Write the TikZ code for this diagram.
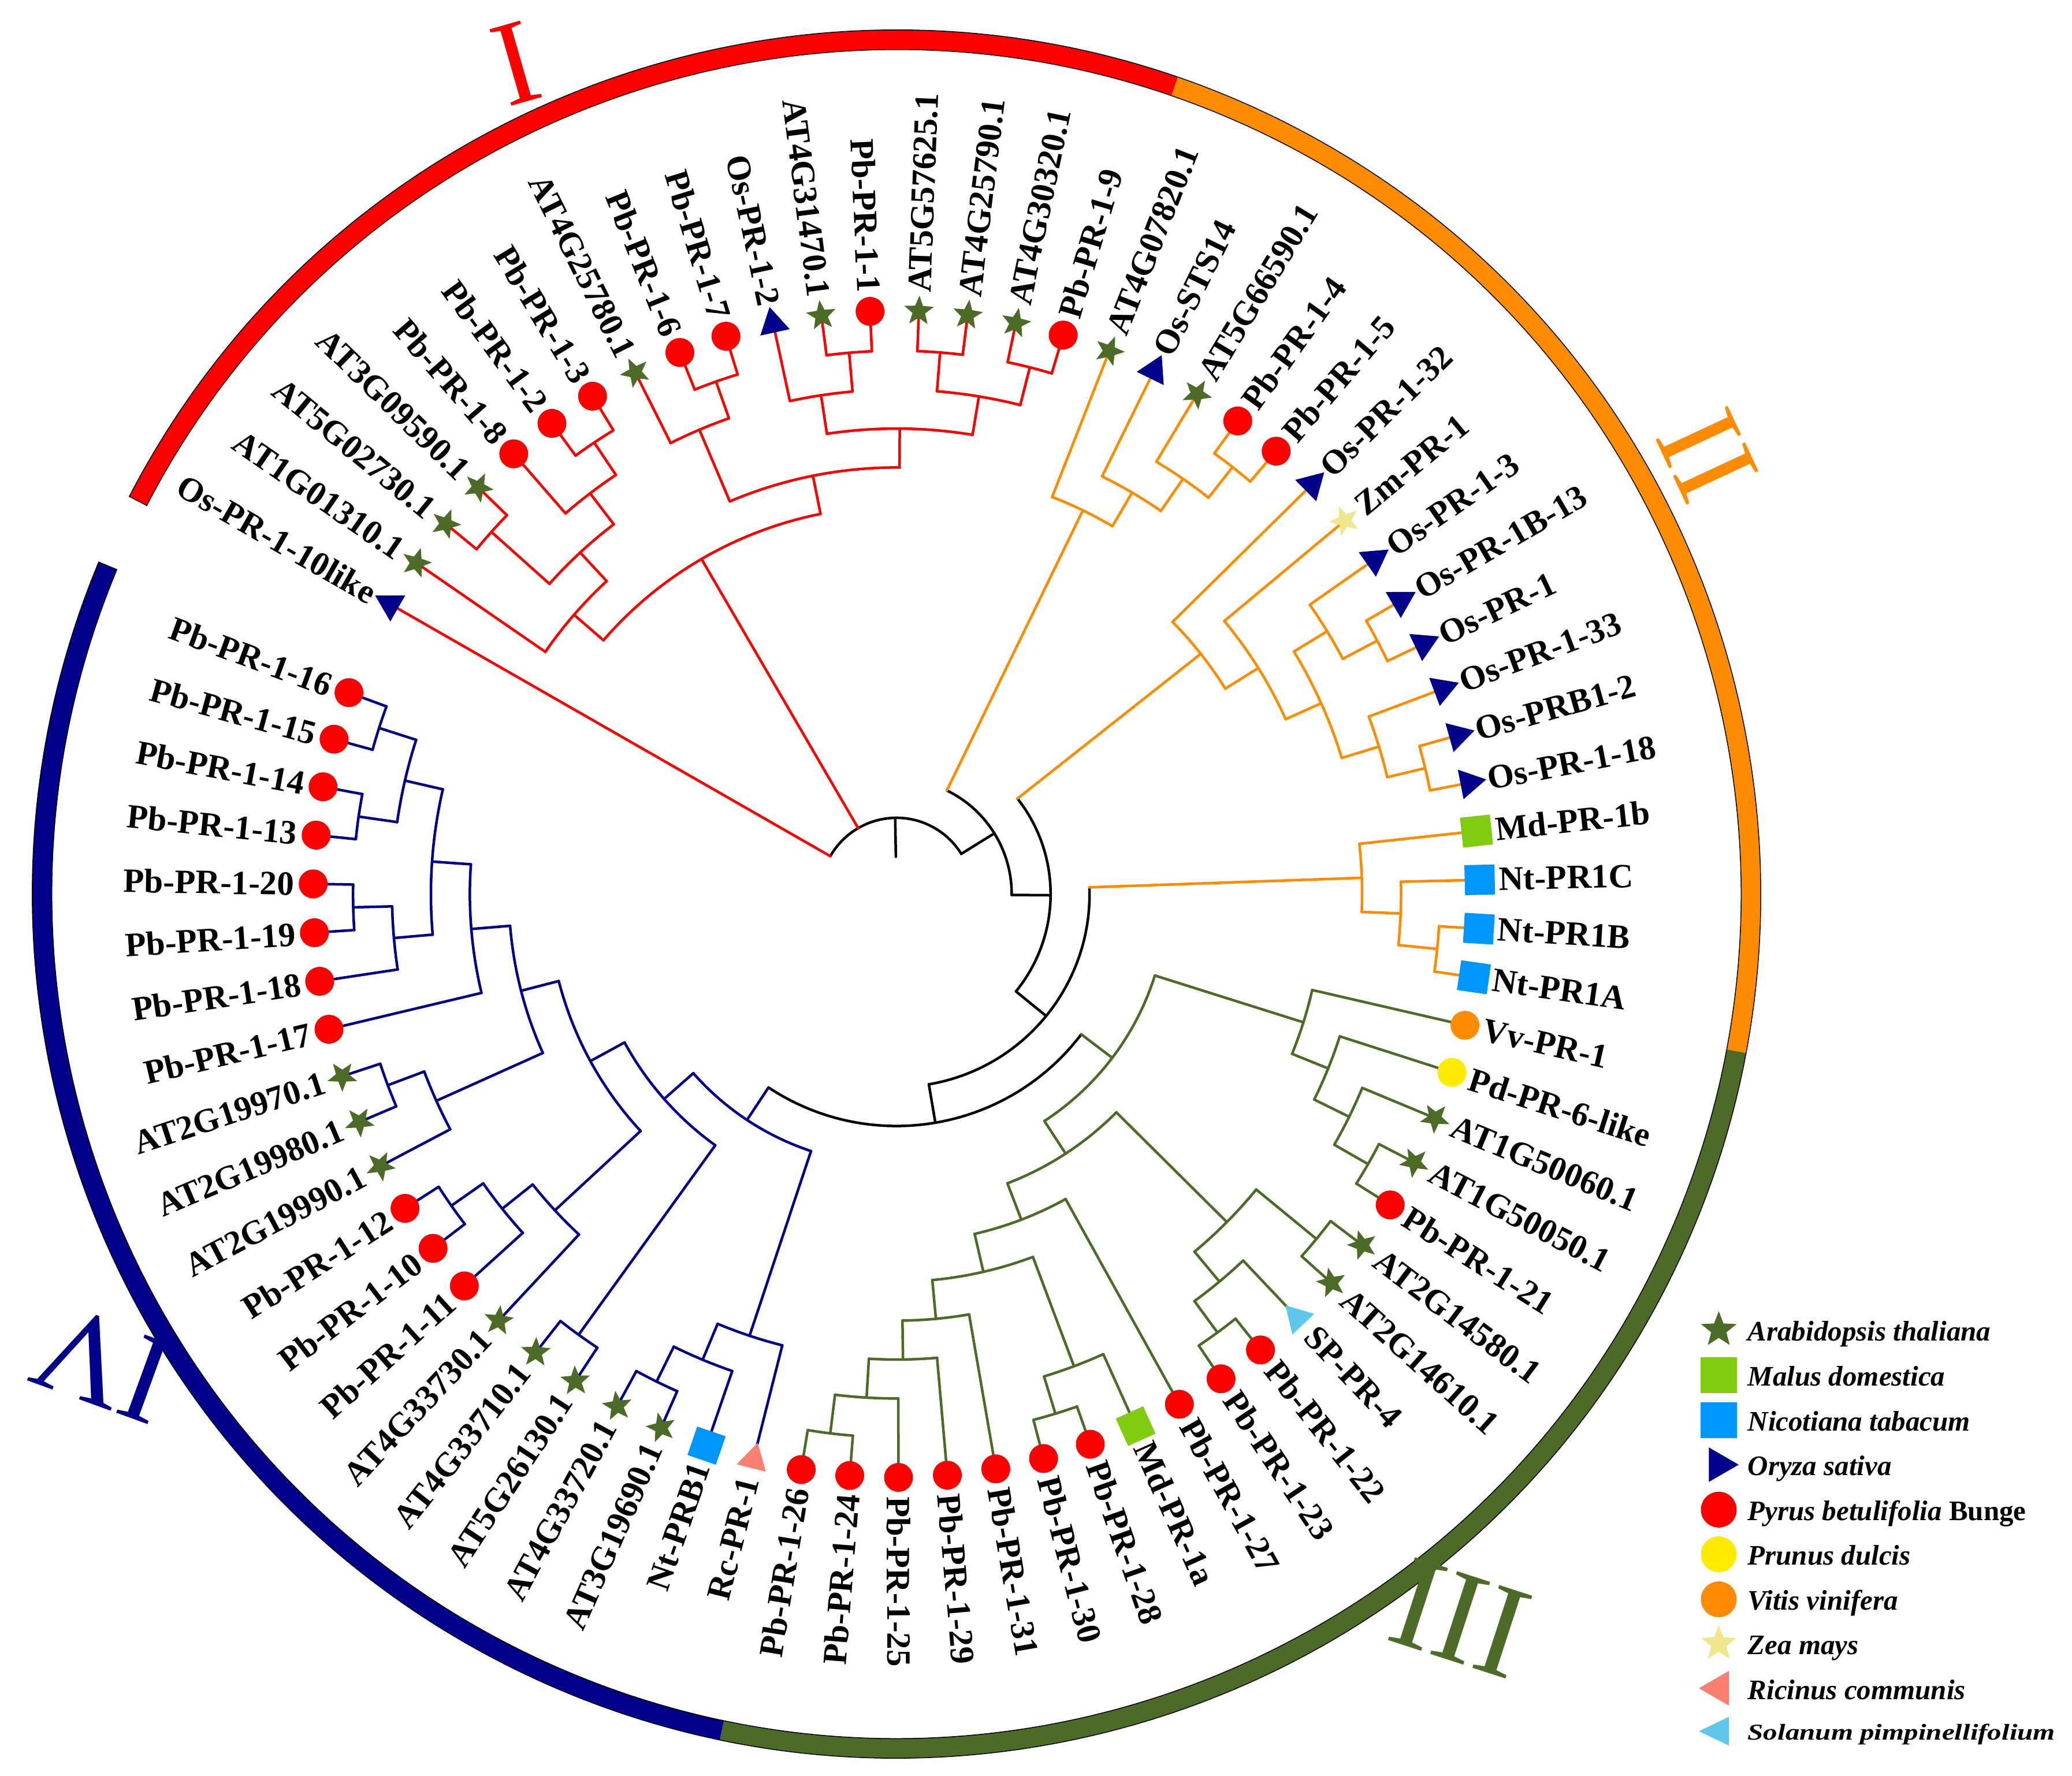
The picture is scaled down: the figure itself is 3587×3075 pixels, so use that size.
\documentclass[tikz,border=0pt]{standalone}
\usepackage{fontspec}
\setmainfont{Liberation Serif}
\definecolor{cI}{RGB}{255,0,0}
\definecolor{cII}{RGB}{255,140,0}
\definecolor{cIII}{RGB}{75,107,38}
\definecolor{cIV}{RGB}{0,0,139}
\definecolor{ath}{RGB}{75,107,38}
\definecolor{mdo}{RGB}{127,204,16}
\definecolor{nta}{RGB}{0,150,255}
\definecolor{osa}{RGB}{0,0,139}
\definecolor{pbe}{RGB}{255,0,0}
\definecolor{pdu}{RGB}{255,235,0}
\definecolor{vvi}{RGB}{255,140,0}
\definecolor{zma}{RGB}{240,230,140}
\definecolor{rco}{RGB}{250,128,114}
\definecolor{spi}{RGB}{92,200,235}
\tikzset{
  br/.style={line width=0.9pt, line cap=round, line join=round},
  lbl/.style={inner sep=0pt, font=\bfseries\fontsize{11.8}{14}\selectfont},
  leg/.style={inner sep=0pt, anchor=base west, font=\bfseries\itshape\fontsize{9.8}{12}\selectfont},
  numeral/.style={inner sep=0pt}
}
% markers (drawn in a frame rotated so +x points outward)
\newcommand\mkC[1]{\fill[#1] (0,0) circle[radius=25];}
\newcommand\mkS[1]{\fill[#1] (-26,-26) rectangle (26,26);}
\newcommand\mkT[1]{\fill[#1] (30,0) -- (-15,26) -- (-15,-26) -- cycle;}
\newcommand\mkTi[1]{\fill[#1] (-30,0) -- (15,26) -- (15,-26) -- cycle;}
\newcommand\mkStar[1]{\fill[#1] (0:27) -- (36:11.5) -- (72:27) -- (108:11.5) -- (144:27) -- (180:11.5) -- (216:27) -- (252:11.5) -- (288:27) -- (324:11.5) -- cycle;}
% internal node: color, angle, parent level, level, arc start, arc end
\newcommand\tnode[6]{%
  \draw[br,#1] (#2:{132+67.4*#3}) -- (#2:{132+67.4*#4});
  \draw[br,#1] (#5:{132+67.4*#4}) arc[start angle=#5,end angle=#6,radius={132+67.4*#4}];
}
% leaf: angle, parent level, branch color, marker, marker color, label
\newcommand\tleaf[6]{%
  \draw[br,#3] (#1:{132+67.4*#2}) -- (#1:1008);
  \begin{scope}[shift={(#1:1010)},rotate=#1]\csname mk#4\endcsname{#5}\end{scope}
  \pgfmathsetmacro\lfang{mod(#1+720,360)}%
  \pgfmathtruncatemacro\lfflip{(\lfang>90)&&(\lfang<270)}%
  \ifnum\lfflip=1
    \pgfmathsetmacro\lfrot{\lfang+180}%
    \node[lbl,anchor=east,rotate=\lfrot] at (#1:1042) {#6};%
  \else
    \node[lbl,anchor=west,rotate=\lfang] at (#1:1042) {#6};%
  \fi
}
\newcommand\ringseg[3]{\fill[#1] (#2:1462) arc[start angle=#2,end angle=#3,radius=1462] -- (#3:1496) arc[start angle=#3,end angle=#2,radius=1496] -- cycle;}
\begin{document}
\begin{tikzpicture}[x=0.2pt,y=0.2pt]
\useasboundingbox (-1552,-1527) rectangle (2035,1548);
% ---------- outer ring ----------
\ringseg{cI}{71.0}{152.6}
\ringseg{cII}{-10.6}{71.0}
\ringseg{cIII}{-101.8}{-10.6}
\ringseg{cIV}{-202.6}{-101.8}
\draw[line width=0.3pt] (-202.6:1462) arc[start angle=-202.6,end angle=152.6,radius=1462] -- (152.6:1496) arc[start angle=152.6,end angle=-202.6,radius=1496] -- cycle;
% ---------- clade numerals ----------
\node[numeral,text=cI,font=\fontsize{42}{42}\selectfont,rotate=16] (numI) at (114.6:1582) {I};
\node[numeral,text=cII,font=\fontsize{42}{42}\selectfont,rotate=-65] (numII) at (28.4:1596) {II};
\node[numeral,text=cIII,font=\fontsize{46}{46}\selectfont,rotate=-18] (numIII) at (-52.1:1589) {III};
\node[numeral,text=cIV,font=\fontsize{44}{44}\selectfont,rotate=160] (numIV) at (210.6:1595) {IV};
% ---------- backbone ----------
\draw[br,black] (91:64.6) -- (91:132);
\draw[br,black] (150.2:132) arc[start angle=150.2,end angle=31.83,radius=132];
\tnode{black}{31.83}{0}{1}{64.1}{-0.44}
\tnode{black}{-0.44}{1}{2}{38.3}{-39.175}
\tnode{black}{-39.175}{2}{3}{2.0}{-80.35}
\tnode{black}{-80.35}{3}{4}{-37.21}{-123.49}
% ---------- clade I ----------
\tnode{cI}{120.2}{0}{8}{139.1}{101.3}
\tnode{cI}{139.1}{8}{9}{145.4}{132.8}
\tnode{cI}{132.8}{9}{10}{138.2}{127.4}
\tnode{cI}{138.2}{10}{12}{140.6}{135.8}
\tnode{cI}{127.4}{10}{11}{131.0}{123.8}
\tnode{cI}{123.8}{11}{12}{126.2}{121.4}
\tnode{cI}{101.3}{8}{9}{113.0}{89.6}
\tnode{cI}{113.0}{9}{11}{116.6}{109.4}
\tnode{cI}{109.4}{11}{12}{111.8}{107.0}
\tnode{cI}{89.6}{9}{10}{98.6}{80.6}
\tnode{cI}{98.6}{10}{11}{102.2}{95.0}
\tnode{cI}{95.0}{11}{12}{97.4}{92.6}
\tnode{cI}{80.6}{10}{11}{85.4}{75.8}
\tnode{cI}{85.4}{11}{12}{87.8}{83.0}
\tnode{cI}{75.8}{11}{12}{78.2}{73.4}
% ---------- clade II ----------
\tnode{cII}{64.1}{1}{9}{68.6}{59.6}
\tnode{cII}{59.6}{9}{10}{63.8}{55.4}
\tnode{cII}{55.4}{10}{11}{59.0}{51.8}
\tnode{cII}{51.8}{11}{12}{54.2}{49.4}
\tnode{cII}{38.3}{2}{8}{44.6}{32.0}
\tnode{cII}{32.0}{8}{9}{39.8}{24.2}
\tnode{cII}{24.2}{9}{10}{31.4}{17.0}
\tnode{cII}{31.4}{10}{11}{35.0}{27.8}
\tnode{cII}{27.8}{11}{12}{30.2}{25.4}
\tnode{cII}{17.0}{10}{11}{20.6}{13.4}
\tnode{cII}{13.4}{11}{12}{15.8}{11.0}
\tnode{cII}{2.0}{3}{10}{6.2}{-2.2}
\tnode{cII}{-2.2}{10}{11}{1.4}{-5.8}
\tnode{cII}{-5.8}{11}{12}{-3.4}{-8.2}
% ---------- clade III ----------
\tnode{cIII}{-37.21}{4}{5}{-17.5}{-56.9125}
\tnode{cIII}{-17.5}{5}{9}{-13.0}{-22.0}
\tnode{cIII}{-22.0}{9}{10}{-17.8}{-26.2}
\tnode{cIII}{-26.2}{10}{11}{-22.6}{-29.8}
\tnode{cIII}{-29.8}{11}{12}{-27.4}{-32.2}
\tnode{cIII}{-56.9125}{5}{6}{-44.8}{-69.025}
\tnode{cIII}{-44.8}{6}{10}{-39.4}{-50.2}
\tnode{cIII}{-39.4}{10}{12}{-37.0}{-41.8}
\tnode{cIII}{-50.2}{10}{11}{-46.6}{-53.8}
\tnode{cIII}{-53.8}{11}{12}{-51.4}{-56.2}
\tnode{cIII}{-69.025}{6}{7}{-61.0}{-77.05}
\tnode{cIII}{-77.05}{7}{8}{-69.4}{-84.7}
\tnode{cIII}{-69.4}{8}{11}{-65.8}{-73.0}
\tnode{cIII}{-73.0}{11}{12}{-70.6}{-75.4}
\tnode{cIII}{-84.7}{8}{9}{-80.2}{-89.2}
\tnode{cIII}{-89.2}{9}{10}{-85.0}{-93.4}
\tnode{cIII}{-93.4}{10}{11}{-89.8}{-97.0}
\tnode{cIII}{-97.0}{11}{12}{-94.6}{-99.4}
% ---------- clade IV ----------
\tnode{cIV}{-123.49}{4}{5}{-108.4}{-138.59}
\tnode{cIV}{-138.59}{5}{6}{-125.8}{-151.375}
\tnode{cIV}{-108.4}{5}{10}{-104.2}{-112.6}
\tnode{cIV}{-112.6}{10}{11}{-109.0}{-116.2}
\tnode{cIV}{-116.2}{11}{12}{-113.8}{-118.6}
\tnode{cIV}{-125.8}{6}{12}{-123.4}{-128.2}
\tnode{cIV}{-151.375}{6}{7}{-137.2}{-165.55}
\tnode{cIV}{-137.2}{7}{10}{-133.0}{-141.4}
\tnode{cIV}{-141.4}{10}{11}{-137.8}{-145.0}
\tnode{cIV}{-145.0}{11}{12}{-142.6}{-147.4}
\tnode{cIV}{-165.55}{7}{8}{-155.8}{-175.3}
\tnode{cIV}{-155.8}{8}{11}{-152.2}{-159.4}
\tnode{cIV}{-159.4}{11}{12}{-157.0}{-161.8}
\tnode{cIV}{-175.3}{8}{9}{-166.6}{-184.0}
\tnode{cIV}{-184.0}{9}{10}{-175.0}{-193.0}
\tnode{cIV}{-175.0}{10}{11}{-171.4}{-178.6}
\tnode{cIV}{-178.6}{11}{12}{-176.2}{-181.0}
\tnode{cIV}{-193.0}{10}{11}{-188.2}{-197.8}
\tnode{cIV}{-197.8}{11}{12}{-195.4}{-200.2}
\tnode{cIV}{-188.2}{11}{12}{-185.8}{-190.6}
% ---------- leaves ----------
\tleaf{6.2}{10}{cII}{S}{mdo}{Md-PR-1b}
\tleaf{11.0}{12}{cII}{T}{osa}{Os-PR-1-18}
\tleaf{15.8}{12}{cII}{T}{osa}{Os-PRB1-2}
\tleaf{20.6}{11}{cII}{T}{osa}{Os-PR-1-33}
\tleaf{25.4}{12}{cII}{T}{osa}{Os-PR-1}
\tleaf{30.2}{12}{cII}{T}{osa}{Os-PR-1B-13}
\tleaf{35.0}{11}{cII}{T}{osa}{Os-PR-1-3}
\tleaf{39.8}{9}{cII}{Star}{zma}{Zm-PR-1}
\tleaf{44.6}{8}{cII}{T}{osa}{Os-PR-1-32}
\tleaf{49.4}{12}{cII}{C}{pbe}{Pb-PR-1-5}
\tleaf{54.2}{12}{cII}{C}{pbe}{Pb-PR-1-4}
\tleaf{59.0}{11}{cII}{Star}{ath}{AT5G66590.1}
\tleaf{63.8}{10}{cII}{T}{osa}{Os-STS14}
\tleaf{68.6}{9}{cII}{Star}{ath}{AT4G07820.1}
\tleaf{73.4}{12}{cI}{C}{pbe}{Pb-PR-1-9}
\tleaf{78.2}{12}{cI}{Star}{ath}{AT4G30320.1}
\tleaf{83.0}{12}{cI}{Star}{ath}{AT4G25790.1}
\tleaf{87.8}{12}{cI}{Star}{ath}{AT5G57625.1}
\tleaf{92.6}{12}{cI}{C}{pbe}{Pb-PR-1-1}
\tleaf{97.4}{12}{cI}{Star}{ath}{AT4G31470.1}
\tleaf{102.2}{11}{cI}{T}{osa}{Os-PR-1-2}
\tleaf{107.0}{12}{cI}{C}{pbe}{Pb-PR-1-7}
\tleaf{111.8}{12}{cI}{C}{pbe}{Pb-PR-1-6}
\tleaf{116.6}{11}{cI}{Star}{ath}{AT4G25780.1}
\tleaf{121.4}{12}{cI}{C}{pbe}{Pb-PR-1-3}
\tleaf{126.2}{12}{cI}{C}{pbe}{Pb-PR-1-2}
\tleaf{131.0}{11}{cI}{C}{pbe}{Pb-PR-1-8}
\tleaf{135.8}{12}{cI}{Star}{ath}{AT3G09590.1}
\tleaf{140.6}{12}{cI}{Star}{ath}{AT5G02730.1}
\tleaf{145.4}{9}{cI}{Star}{ath}{AT1G01310.1}
\tleaf{150.2}{0}{cI}{T}{osa}{Os-PR-1-10like}
\tleaf{-200.2}{12}{cIV}{C}{pbe}{Pb-PR-1-16}
\tleaf{-195.4}{12}{cIV}{C}{pbe}{Pb-PR-1-15}
\tleaf{-190.6}{12}{cIV}{C}{pbe}{Pb-PR-1-14}
\tleaf{-185.8}{12}{cIV}{C}{pbe}{Pb-PR-1-13}
\tleaf{-181.0}{12}{cIV}{C}{pbe}{Pb-PR-1-20}
\tleaf{-176.2}{12}{cIV}{C}{pbe}{Pb-PR-1-19}
\tleaf{-171.4}{11}{cIV}{C}{pbe}{Pb-PR-1-18}
\tleaf{-166.6}{9}{cIV}{C}{pbe}{Pb-PR-1-17}
\tleaf{-161.8}{12}{cIV}{Star}{ath}{AT2G19970.1}
\tleaf{-157.0}{12}{cIV}{Star}{ath}{AT2G19980.1}
\tleaf{-152.2}{11}{cIV}{Star}{ath}{AT2G19990.1}
\tleaf{-147.4}{12}{cIV}{C}{pbe}{Pb-PR-1-12}
\tleaf{-142.6}{12}{cIV}{C}{pbe}{Pb-PR-1-10}
\tleaf{-137.8}{11}{cIV}{C}{pbe}{Pb-PR-1-11}
\tleaf{-133.0}{10}{cIV}{Star}{ath}{AT4G33730.1}
\tleaf{-128.2}{12}{cIV}{Star}{ath}{AT4G33710.1}
\tleaf{-123.4}{12}{cIV}{Star}{ath}{AT5G26130.1}
\tleaf{-118.6}{12}{cIV}{Star}{ath}{AT4G33720.1}
\tleaf{-113.8}{12}{cIV}{Star}{ath}{AT3G19690.1}
\tleaf{-109.0}{11}{cIV}{S}{nta}{Nt-PRB1}
\tleaf{-104.2}{10}{cIV}{Ti}{rco}{Rc-PR-1}
\tleaf{-99.4}{12}{cIII}{C}{pbe}{Pb-PR-1-26}
\tleaf{-94.6}{12}{cIII}{C}{pbe}{Pb-PR-1-24}
\tleaf{-89.8}{11}{cIII}{C}{pbe}{Pb-PR-1-25}
\tleaf{-85.0}{10}{cIII}{C}{pbe}{Pb-PR-1-29}
\tleaf{-80.2}{9}{cIII}{C}{pbe}{Pb-PR-1-31}
\tleaf{-75.4}{12}{cIII}{C}{pbe}{Pb-PR-1-30}
\tleaf{-70.6}{12}{cIII}{C}{pbe}{Pb-PR-1-28}
\tleaf{-65.8}{11}{cIII}{S}{mdo}{Md-PR-1a}
\tleaf{-61.0}{7}{cIII}{C}{pbe}{Pb-PR-1-27}
\tleaf{-56.2}{12}{cIII}{C}{pbe}{Pb-PR-1-23}
\tleaf{-51.4}{12}{cIII}{C}{pbe}{Pb-PR-1-22}
\tleaf{-46.6}{11}{cIII}{Ti}{spi}{SP-PR-4}
\tleaf{-41.8}{12}{cIII}{Star}{ath}{AT2G14610.1}
\tleaf{-37.0}{12}{cIII}{Star}{ath}{AT2G14580.1}
\tleaf{-32.2}{12}{cIII}{C}{pbe}{Pb-PR-1-21}
\tleaf{-27.4}{12}{cIII}{Star}{ath}{AT1G50050.1}
\tleaf{-22.6}{11}{cIII}{Star}{ath}{AT1G50060.1}
\tleaf{-17.8}{10}{cIII}{C}{pdu}{Pd-PR-6-like}
\tleaf{-13.0}{9}{cIII}{C}{vvi}{Vv-PR-1}
\tleaf{-8.2}{12}{cII}{S}{nta}{Nt-PR1A}
\tleaf{-3.4}{12}{cII}{S}{nta}{Nt-PR1B}
\tleaf{1.4}{11}{cII}{S}{nta}{Nt-PR1C}
% ---------- legend ----------
\begin{scope}[shift={(1423.5,-754.6)},scale=1.2,rotate=90]\mkStar{ath}\end{scope}
\node[leg] (l1) at (1472.7,-773.6) {Arabidopsis thaliana};
\begin{scope}[shift={(1423.5,-833)},scale=1.2]\mkS{mdo}\end{scope}
\node[leg] (l2) at (1472.7,-852) {Malus domestica};
\begin{scope}[shift={(1423.5,-911)},scale=1.2]\mkS{nta}\end{scope}
\node[leg] (l3) at (1472.7,-930) {Nicotiana tabacum};
\begin{scope}[shift={(1423.5,-988)},scale=1.15]\mkT{osa}\end{scope}
\node[leg] (l4) at (1472.7,-1007) {Oryza sativa};
\begin{scope}[shift={(1423.5,-1065.8)},scale=1.24]\mkC{pbe}\end{scope}
\node[leg] (l5) at (1472.7,-1084.8) {Pyrus betulifolia \upshape Bunge};
\begin{scope}[shift={(1423.5,-1143)},scale=1.24]\mkC{pdu}\end{scope}
\node[leg] (l6) at (1472.7,-1162) {Prunus dulcis};
\begin{scope}[shift={(1423.5,-1221)},scale=1.24]\mkC{vvi}\end{scope}
\node[leg] (l7) at (1472.7,-1240) {Vitis vinifera};
\begin{scope}[shift={(1423.5,-1298)},scale=1.2,rotate=90]\mkStar{zma}\end{scope}
\node[leg] (l8) at (1472.7,-1317) {Zea mays};
\begin{scope}[shift={(1423.5,-1375)},scale=1.15]\mkTi{rco}\end{scope}
\node[leg] (l9) at (1472.7,-1394) {Ricinus communis};
\begin{scope}[shift={(1423.5,-1449.4)},xscale=1.15,yscale=0.95]\mkTi{spi}\end{scope}
\node[leg,yscale=0.8] (l10) at (1472.7,-1465) {Solanum pimpinellifolium};
\end{tikzpicture}
\end{document}
